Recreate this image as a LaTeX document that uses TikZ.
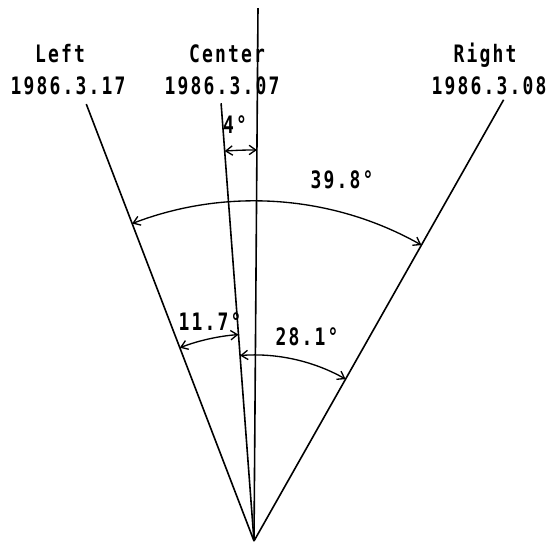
\documentclass[tikz,border=0pt]{standalone}
\usepackage{fontspec}
\newfontfamily\plotfont[FakeStretch=0.75,LetterSpace=9]{DejaVu Sans Mono}
\usepackage{tikz}
\usetikzlibrary{arrows.meta,calc}

\begin{document}
\begin{tikzpicture}[x=0.75pt, y=0.75pt,
    ray/.style={line width=1.2pt},
    ang/.style={{Straight Barb[length=5pt,width=7pt]}-{Straight Barb[length=5pt,width=7pt]}, line width=1pt},
    lbl/.style={font=\fontsize{18}{20}\plotfont\bfseries, inner sep=0pt},
  ]
  \useasboundingbox (0,0) rectangle (551,545);
  % rays from the common origin
  \coordinate (apex) at (254,4);
  \coordinate (vtop) at ($(apex)+(89.57:533)$);
  \coordinate (ctop) at ($(apex)+(94.3:439)$);
  \coordinate (ltop) at ($(apex)+(111:468)$);
  \coordinate (rtop) at ($(apex)+(60.5:507)$);
  \draw[ray] (apex) -- (vtop);
  \draw[ray] (apex) -- (ctop);
  \draw[ray] (apex) -- (ltop);
  \draw[ray] (apex) -- (rtop);
  % angle arcs
  \draw[ang] ($(apex)+(94.3:391)$) arc[start angle=94.3, end angle=89.57, radius=391];
  \draw[ang] ($(apex)+(111:340)$) arc[start angle=111, end angle=60.5, radius=340];
  \draw[ang] ($(apex)+(111:207)$) arc[start angle=111, end angle=94.3, radius=207];
  \draw[ang] ($(apex)+(94.3:186)$) arc[start angle=94.3, end angle=60.5, radius=186];
  % labels
  \node[lbl, anchor=base] (lname) at (60,482) {Left};
  \node[lbl, anchor=base] (ldate) at (68,450) {1986.3.17};
  \node[lbl, anchor=base] (cname) at (227,482) {Center};
  \node[lbl, anchor=base] (cdate) at (222,450) {1986.3.07};
  \node[lbl, anchor=base] (rname) at (485,482) {Right};
  \node[lbl, anchor=base] (rdate) at (489,450) {1986.3.08};
  \node[lbl] (a4) at (235,420) {4°};
  \node[lbl] (a398) at (342,365) {39.8°};
  \node[lbl] (a117) at (210,223) {11.7°};
  \node[lbl] (a281) at (307,208) {28.1°};
\end{tikzpicture}
\end{document}
